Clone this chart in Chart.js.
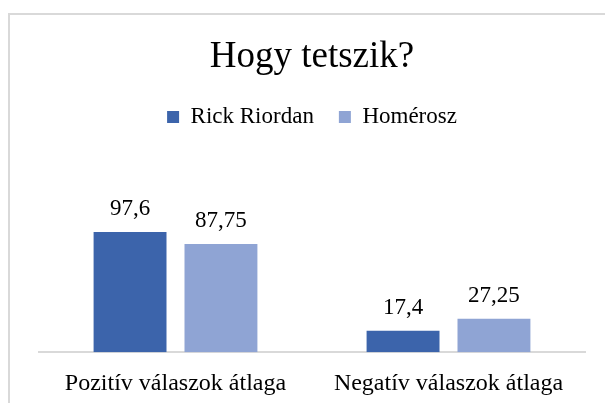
<!DOCTYPE html>
<html>
<head>
<meta charset="utf-8">
<script src="https://cdn.jsdelivr.net/npm/chart.js@4.4.0/dist/chart.umd.min.js"></script>
<style>
    html, body { margin: 0; padding: 0; background: #fff; }
    body { width: 605px; height: 403px; position: relative; overflow: hidden; }
    .frame {
        position: absolute; left: 8px; top: 13px;
        width: 700px; height: 500px;
        border-left: 2px solid #d9d9d9; border-top: 2px solid #d9d9d9;
    }
    .wrap { position: absolute; left: 0; top: 0; width: 605px; height: 403px; }
</style>
</head>
<body>
<div class="frame"></div>
<div class="wrap"><canvas id="chart"></canvas></div>
<script>
const categories = ['Pozitív válaszok átlaga', 'Negatív válaszok átlaga'];
const seriesNames = ['Rick Riordan', 'Homérosz'];
const riordanValues = [97.6, 17.4];
const homeroszValues = [87.75, 27.25];
const seriesColors = ['#3c64ab', '#8fa4d4'];

const serif = "'Liberation Serif', 'Times New Roman', serif";

// Hungarian decimal comma
function fmt(v) {
    return String(v).replace('.', ',');
}

// value labels above each bar
const barLabels = {
    id: 'barLabels',
    afterDatasetsDraw(chart) {
        const ctx = chart.ctx;
        ctx.save();
        ctx.font = `23px ${serif}`;
        ctx.fillStyle = '#000';
        ctx.textAlign = 'center';
        ctx.textBaseline = 'alphabetic';
        chart.data.datasets.forEach((ds, i) => {
            chart.getDatasetMeta(i).data.forEach((bar, j) => {
                ctx.fillText(fmt(ds.data[j]), bar.x, bar.y - 17);
            });
        });
        ctx.restore();
    }
};

// extra room between legend and plot
const legendGap = {
    id: 'legendGap',
    beforeInit(chart) {
        const fit = chart.legend.fit;
        chart.legend.fit = function () {
            fit.bind(chart.legend)();
            this.height += 66;
        };
    }
};

new Chart(document.getElementById('chart'), {
    type: 'bar',
    data: {
        labels: categories,
        datasets: [
            { label: seriesNames[0], data: riordanValues, backgroundColor: seriesColors[0] },
            { label: seriesNames[1], data: homeroszValues, backgroundColor: seriesColors[1] }
        ]
    },
    options: {
        responsive: true,
        maintainAspectRatio: false,
        animation: false,
        layout: { padding: { left: 39, right: 20, top: 0, bottom: -12 } },
        datasets: {
            bar: { categoryPercentage: 0.666, barPercentage: 0.802 }
        },
        plugins: {
            title: {
                display: true,
                text: 'Hogy tetszik?',
                color: '#000',
                font: { family: serif, size: 37, weight: 'normal' },
                padding: { top: 35, bottom: 1 }
            },
            legend: {
                position: 'top',
                labels: {
                    color: '#000',
                    font: { family: serif, size: 23 },
                    boxWidth: 12,
                    boxHeight: 12,
                    padding: 25
                }
            },
            tooltip: { enabled: false }
        },
        scales: {
            x: {
                grid: { display: false, drawTicks: false },
                border: { display: true, color: '#d9d9d9', width: 2 },
                ticks: {
                    color: '#000',
                    font: { family: serif, size: 24 },
                    padding: 17
                }
            },
            y: {
                display: false,
                min: 0,
                max: 120
            }
        }
    },
    plugins: [barLabels, legendGap]
});
</script>
</body>
</html>
